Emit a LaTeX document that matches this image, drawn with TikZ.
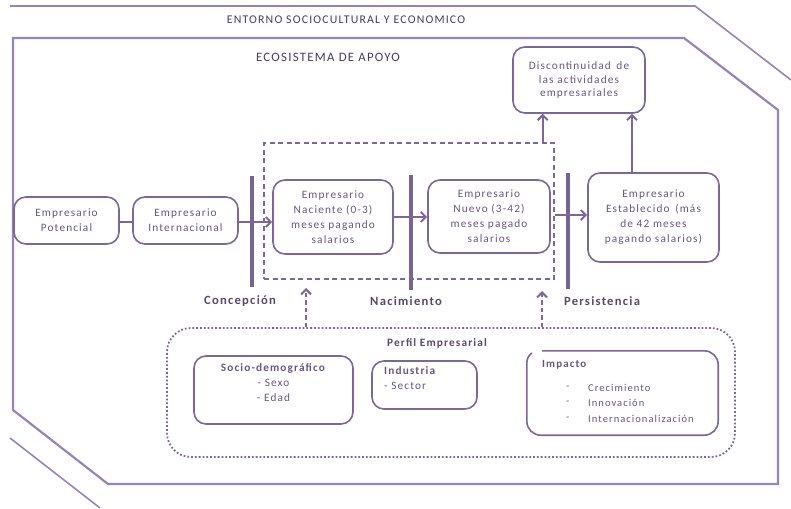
\documentclass[tikz,border=0pt]{standalone}
\usepackage{fontspec}
\setmainfont{Carlito}[LetterSpace=10.0]
\usetikzlibrary{arrows.meta}
\definecolor{lnc}{RGB}{124,102,154}
\definecolor{outc}{RGB}{150,132,182}
\definecolor{txc}{RGB}{100,86,128}
\definecolor{barc}{RGB}{120,98,150}
\tikzset{
  box/.style={draw=lnc, line width=1.6pt, rounded corners=12pt, inner sep=0pt, text=txc, align=center, font=\fontsize{11.3}{15}\selectfont},
  txt/.style={text=txc, inner sep=0pt, font=\fontsize{11.3}{15}\selectfont},
  lab/.style={text=txc!85!black, inner sep=0pt, font=\fontsize{12.6}{14}\selectfont\bfseries},
  hdr/.style={text=txc!70!black, inner sep=0pt, font=\fontsize{11.8}{12}\selectfont},
  bar/.style={draw=barc, line width=3.5pt},
  arr/.style={draw=lnc, line width=2.2pt, -{Straight Barb[length=5pt,width=10pt,line width=2pt]}},
  plain/.style={draw=lnc, line width=2.2pt},
  darr/.style={draw=lnc, line width=2.2pt, dash pattern=on 4.5pt off 3pt, -{Straight Barb[length=5pt,width=10pt,line width=2pt]}},
  frameout/.style={draw=outc, line width=1.6pt},
  framein/.style={draw=outc, line width=2.2pt},
}
\begin{document}
\begin{tikzpicture}[x=1pt,y=-1pt]
\useasboundingbox (0,0) rectangle (791,508);
% frames
\draw[frameout] (10,6) -- (695,6) -- (791,80);
\draw[frameout] (10,438) -- (100,508);
\draw[framein] (684,38) -- (13,38) -- (13,410) -- (108,484) -- (778,484) -- (778,110) -- cycle;
\node[hdr] (entorno) at (346,20) {ENTORNO SOCIOCULTURAL Y ECONOMICO};
\node[hdr, font=\fontsize{12.8}{12}\selectfont] (eco) at (328,57) {ECOSISTEMA DE APOYO};
% dashed zone
\node[draw=lnc, line width=1.3pt, dash pattern=on 5pt off 3.5pt, minimum width=290pt, minimum height=136pt, inner sep=0pt] (zone) at (409,211) {};
% boxes
\node[box, minimum width=105pt, minimum height=47pt] (pot) at (66.5,220.5) {Empresario\\Potencial};
\node[box, minimum width=105pt, minimum height=47pt] (inter) at (185.5,220.5) {Empresario\\Internacional};
\node[box, minimum width=120pt, minimum height=74pt] (nac) at (333,217) {Empresario\\Naciente (0-3)\\meses pagando\\salarios};
\node[box, minimum width=122pt, minimum height=73pt] (nue) at (489,216.5) {Empresario\\Nuevo (3-42)\\meses pagado\\salarios};
\node[box, minimum width=131pt, minimum height=89pt] (est) at (653.5,217.5) {Empresario\\Establecido\hspace{2pt} (más\\de 42 meses\\pagando salarios)};
\node[box, minimum width=132pt, minimum height=66pt, font=\fontsize{11.3}{13.5}\selectfont] (disc) at (579,80) {Discontinuidad\hspace{2pt} de\\las actividades\\empresariales};
% bars
\coordinate (b1t) at (252,176); \coordinate (b1b) at (252,287);
\coordinate (b2t) at (411,175); \coordinate (b2b) at (411,290);
\coordinate (b3t) at (568,173); \coordinate (b3b) at (568,289);
\draw[bar] (b1t) -- (b1b);
\draw[bar] (b2t) -- (b2b);
\draw[bar] (b3t) -- (b3b);
\node[lab] (conc) at (240,301) {Concepción};
\node[lab] (naci) at (406,301) {Nacimiento};
\node[lab] (pers) at (602,301) {Persistencia};
% connectors
\draw[plain] (pot.east |- 0,222) -- (inter.west |- 0,222);
\draw[arr] (inter.east |- 0,222) -- (nac.west |- 0,222);
\draw[arr] (nac.east |- 0,217) -- (nue.west |- 0,217);
\draw[arr] (zone.east |- 0,215) -- (est.west |- 0,215);
\draw[arr] ([xshift=-12pt]zone.north east) -- ([xshift=-12pt]zone.north east |- disc.south);
\draw[arr] ([xshift=-21.5pt]est.north) -- ([xshift=-21.5pt]est.north |- disc.south);
% perfil
\node[draw=lnc, line width=1.8pt, dotted, rounded corners=24pt, minimum width=568pt, minimum height=129pt, inner sep=0pt] (perfil) at (451,392.5) {};
\node[lab, font=\fontsize{11.3}{13}\selectfont\bfseries] (perfilT) at (437,343) {Perfil Empresarial};
\draw[darr] (perfil.north -| 306,0) -- (306,288);
\draw[darr] (perfil.north -| 542,0) -- (542,291);
% sub boxes
\node[box, minimum width=159pt, minimum height=68pt] (socio) at (273.5,390) {};
\node[txt, anchor=north, align=center] (socioT) at (273.5,363) {\textbf{Socio-demográfico}\\- Sexo\\- Edad};
\node[box, minimum width=105pt, minimum height=48pt] (ind) at (424.5,385) {};
\node[txt, anchor=north west, align=left] (indT) at (384,366) {\textbf{Industria}\\- Sector};
\node[minimum width=191pt, minimum height=84pt, inner sep=0pt] (imp) at (622.5,393) {};
\draw[draw=lnc, line width=1.6pt] ([xshift=15pt]imp.north west) -- ([xshift=-14pt]imp.north east)
  arc[start angle=90, end angle=0, radius=14pt] -- ([yshift=14pt]imp.south east)
  arc[start angle=0, end angle=-90, radius=14pt] -- ([xshift=14pt]imp.south west)
  arc[start angle=-90, end angle=-180, radius=14pt] -- ([yshift=-12pt]imp.north west)
  arc[start angle=180, end angle=125, radius=12pt];
\node[txt, anchor=west, font=\fontsize{11}{15}\selectfont\bfseries] (impT) at (542,365) {Impacto};
\node[txt, anchor=west, font=\fontsize{10.5}{15}\selectfont] (d1) at (566,388) {-};
\node[txt, anchor=west, font=\fontsize{10.5}{15}\selectfont] (d2) at (566,403) {-};
\node[txt, anchor=west, font=\fontsize{10.5}{15}\selectfont] (d3) at (566,419) {-};
\node[txt, anchor=west, font=\fontsize{10.5}{15}\selectfont] (i1) at (588,388) {Crecimiento};
\node[txt, anchor=west, font=\fontsize{10.5}{15}\selectfont] (i2) at (588,403) {Innovación};
\node[txt, anchor=west, font=\fontsize{10.5}{15}\selectfont] (i3) at (588,419) {Internacionalización};
\end{tikzpicture}
\end{document}
